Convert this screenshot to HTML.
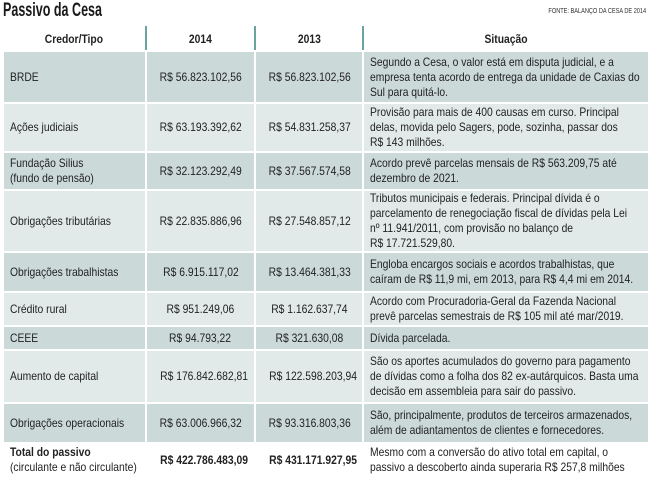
<!DOCTYPE html>
<html><head><meta charset="utf-8"><style>
body{margin:0;width:650px;height:475px;background:#fff;overflow:hidden;font-family:"Liberation Sans",sans-serif;color:#222;position:relative}
h1{position:absolute;left:3px;top:0px;margin:0;font-size:19px;font-weight:bold;color:#1a1a1a;transform:scaleX(0.66);transform-origin:left top;white-space:nowrap}
.src{position:absolute;right:4px;top:8px;font-size:7px;color:#333;transform:scaleX(0.8);transform-origin:right top;white-space:nowrap}
table{position:absolute;left:2px;top:26px;border-collapse:collapse;table-layout:fixed;width:646px;font-size:12px;line-height:15px}
td,th{padding:0 6px;border:2px solid #fff;vertical-align:middle;white-space:nowrap;overflow:hidden}
th{height:22px;font-weight:bold;text-align:center;background:#fff;border-left:2px solid #6aa3a0;border-right:2px solid #6aa3a0;border-bottom:2px solid #fff}
th:first-child{border-left:none}th:last-child{border-right:none}
tr.d td{background:#ccd9d9}tr.l td{background:#e1eae9}tr.w td{background:#fff}
td.n,th{text-align:center}
s{text-decoration:none;display:inline-block;transform:scaleX(0.86);transform-origin:left center}
td.n s,th s{transform-origin:center center}
</style></head><body>
<h1>Passivo da Cesa</h1>
<div class="src">FONTE: BALANÇO DA CESA DE 2014</div>
<table>
<colgroup><col style="width:143px"><col style="width:109px"><col style="width:108px"><col style="width:286px"></colgroup>
<tr><th><s>Credor/Tipo</s></th><th><s>2014</s></th><th><s>2013</s></th><th><s>Situação</s></th></tr>
<tr class="d" style="height:52px"><td><s>BRDE</s></td><td class="n"><s>R$ 56.823.102,56</s></td><td class="n"><s>R$ 56.823.102,56</s></td><td><s>Segundo a Cesa, o valor está em disputa judicial, e a<br>empresa tenta acordo de entrega da unidade de Caxias do<br>Sul para quitá-lo.</s></td></tr>
<tr class="l" style="height:49px"><td><s>Ações judiciais</s></td><td class="n"><s>R$ 63.193.392,62</s></td><td class="n"><s>R$ 54.831.258,37</s></td><td><s>Provisão para mais de 400 causas em curso. Principal<br>delas, movida pelo Sagers, pode, sozinha, passar dos<br>R$ 143 milhões.</s></td></tr>
<tr class="d" style="height:38px"><td><s>Fundação Silius<br>(fundo de pensão)</s></td><td class="n"><s>R$ 32.123.292,49</s></td><td class="n"><s>R$ 37.567.574,58</s></td><td><s>Acordo prevê parcelas mensais de R$ 563.209,75 até<br>dezembro de 2021.</s></td></tr>
<tr class="l" style="height:62px"><td><s>Obrigações tributárias</s></td><td class="n"><s>R$ 22.835.886,96</s></td><td class="n"><s>R$ 27.548.857,12</s></td><td><s>Tributos municipais e federais. Principal dívida é o<br>parcelamento de renegociação fiscal de dívidas pela Lei<br>nº 11.941/2011, com provisão no balanço de<br>R$ 17.721.529,80.</s></td></tr>
<tr class="d" style="height:40px"><td><s>Obrigações trabalhistas</s></td><td class="n"><s>R$ 6.915.117,02</s></td><td class="n"><s>R$ 13.464.381,33</s></td><td><s>Engloba encargos sociais e acordos trabalhistas, que<br>caíram de R$ 11,9 mi, em 2013, para R$ 4,4 mi em 2014.</s></td></tr>
<tr class="l" style="height:34px"><td><s>Crédito rural</s></td><td class="n"><s>R$ 951.249,06</s></td><td class="n"><s>R$ 1.162.637,74</s></td><td><s>Acordo com Procuradoria-Geral da Fazenda Nacional<br>prevê parcelas semestrais de R$ 105 mil até mar/2019.</s></td></tr>
<tr class="d" style="height:24px"><td><s>CEEE</s></td><td class="n"><s>R$ 94.793,22</s></td><td class="n"><s>R$ 321.630,08</s></td><td><s>Dívida parcelada.</s></td></tr>
<tr class="l" style="height:53px"><td><s>Aumento de capital</s></td><td class="n"><s>R$ 176.842.682,81</s></td><td class="n"><s>R$ 122.598.203,94</s></td><td><s>São os aportes acumulados do governo para pagamento<br>de dívidas como a folha dos 82 ex-autárquicos. Basta uma<br>decisão em assembleia para sair do passivo.</s></td></tr>
<tr class="d" style="height:40px"><td><s>Obrigações operacionais</s></td><td class="n"><s>R$ 63.006.966,32</s></td><td class="n"><s>R$ 93.316.803,36</s></td><td><s>São, principalmente, produtos de terceiros armazenados,<br>além de adiantamentos de clientes e fornecedores.</s></td></tr>
<tr class="w" style="height:34px"><td><s><b>Total do passivo</b><br>(circulante e não circulante)</s></td><td class="n"><s><b>R$ 422.786.483,09</b></s></td><td class="n"><s><b>R$ 431.171.927,95</b></s></td><td><s>Mesmo com a conversão do ativo total em capital, o<br>passivo a descoberto ainda superaria R$ 257,8 milhões</s></td></tr>
</table>
</body></html>
